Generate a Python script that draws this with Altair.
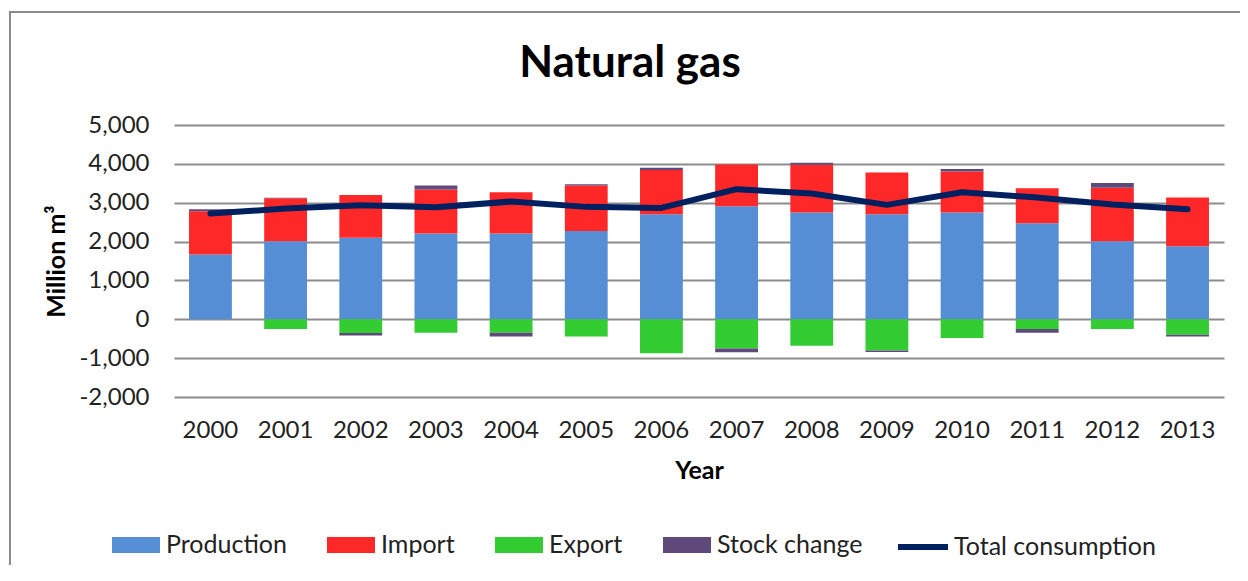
import altair as alt
import pandas as pd

years = [str(y) for y in range(2000, 2014)]
production = [1670, 2010, 2100, 2205, 2205, 2275, 2705, 2910, 2745, 2705, 2745, 2470, 2010, 1880]
imports = [1110, 1105, 1100, 1135, 1065, 1165, 1135, 1075, 1235, 1075, 1060, 900, 1375, 1255]
exports = [0, -250, -350, -345, -345, -445, -875, -755, -680, -805, -480, -250, -250, -395]
stock_change = [50, 15, -70, 100, -100, 35, 60, -95, 50, -35, 60, -95, 120, -50]
total_consumption = [2720, 2850, 2935, 2884, 3030, 2893, 2867, 3348, 3236, 2944, 3270, 3133, 2953, 2833]
y_ticks = [-2000, -1000, 0, 1000, 2000, 3000, 4000, 5000]

bar_series = ["Production", "Import", "Export", "Stock change"]
bar_colors = ["#558ED5", "#FF2828", "#33CC33", "#604A7B"]
line_series = ["Total consumption"]
line_colors = ["#002060"]
chart_title = "Natural gas"

rows = []
for name, vals, order in [("Production", production, 1), ("Import", imports, 2),
                          ("Export", exports, 3), ("Stock change", stock_change, 4)]:
    for y, v in zip(years, vals):
        rows.append({"Year": y, "series": name, "value": v, "order": order})
bars_df = pd.DataFrame(rows)
line_df = pd.DataFrame({"Year": years, "value": total_consumption, "series": line_series[0]})

FONT = "Lato"
rect_path = "M-1,-0.5H2V0.5H-1Z"

x_axis = alt.Axis(title="Year", labelAngle=0, labelFontSize=24, labelFont=FONT,
                  labelColor="#222", titleFont=FONT, titleFontSize=25,
                  titleFontWeight="bold", titleColor="#000", labelPadding=21,
                  titlePadding=16, ticks=False, domain=False, grid=False)
x_scale = alt.Scale(paddingInner=0.43, paddingOuter=0.2)

y_axis = alt.Axis(title="Million m³", values=y_ticks,
                  labelExpr="(datum.value < 0 ? '-' : '') + format(abs(datum.value), ',')",
                  labelOverlap=False, labelFlush=False,
                  labelFontSize=24, labelFont=FONT, labelColor="#222",
                  titleFont=FONT, titleFontSize=25, titleFontWeight="bold",
                  titleColor="#000", labelPadding=25, titlePadding=9,
                  ticks=False, domain=False, grid=True, gridColor="#8C8C8C",
                  gridWidth=2)
y_scale = alt.Scale(domain=[-2000, 5000], nice=False)

bar_legend = alt.Legend(
    orient="none", legendX=-62, legendY=404, direction="horizontal", columns=4,
    title=None, symbolType=rect_path, symbolSize=1024, symbolStrokeWidth=0,
    symbolOpacity=1, labelFont=FONT, labelFontSize=25, labelColor="#222",
    labelOffset=22, columnPadding=40, labelLimit=300)

line_legend = alt.Legend(
    orient="none", legendX=721, legendY=394, direction="horizontal",
    title=None, symbolType="stroke", symbolSize=2500, symbolStrokeWidth=6,
    symbolOpacity=1, labelFont=FONT, labelFontSize=25, labelColor="#222",
    labelOffset=3, labelLimit=300)

bars = alt.Chart(bars_df).mark_bar().encode(
    x=alt.X("Year:N", sort=years, scale=x_scale, axis=x_axis),
    y=alt.Y("value:Q", stack="zero", scale=y_scale, axis=y_axis),
    color=alt.Color("series:N", scale=alt.Scale(domain=bar_series, range=bar_colors),
                    sort=bar_series, legend=bar_legend),
    order=alt.Order("order:Q", sort="ascending"),
)

line = alt.Chart(line_df).mark_line(strokeWidth=6, strokeCap="round", strokeJoin="round").encode(
    x=alt.X("Year:N", sort=years, scale=x_scale, axis=x_axis),
    y=alt.Y("value:Q", scale=y_scale, axis=y_axis),
    stroke=alt.Stroke("series:N", scale=alt.Scale(domain=line_series, range=line_colors),
                      legend=line_legend),
)

frame = alt.Chart(pd.DataFrame({"a": [0]})).mark_rect(
    fill=None, stroke="#8C8C8C", strokeWidth=2).encode(
    x=alt.value(-164), x2=alt.value(1300), y=alt.value(-113), y2=alt.value(700))

title = alt.Chart(pd.DataFrame({"t": [chart_title]})).mark_text(
    font=FONT, fontSize=44, fontWeight="bold", color="#000",
    align="center", baseline="alphabetic").encode(
    text="t:N", x=alt.value(456), y=alt.value(-48))

chart = alt.layer(frame, title, bars, line).properties(
    width=1050, height=272,
    autosize=alt.AutoSizeParams(type="none"),
    padding={"left": 166, "top": 117, "right": 16, "bottom": 168},
    background="white",
).resolve_scale(color="independent").configure_view(stroke=None)

chart.save("out.html", embed_options={"renderer": "svg", "actions": False})
